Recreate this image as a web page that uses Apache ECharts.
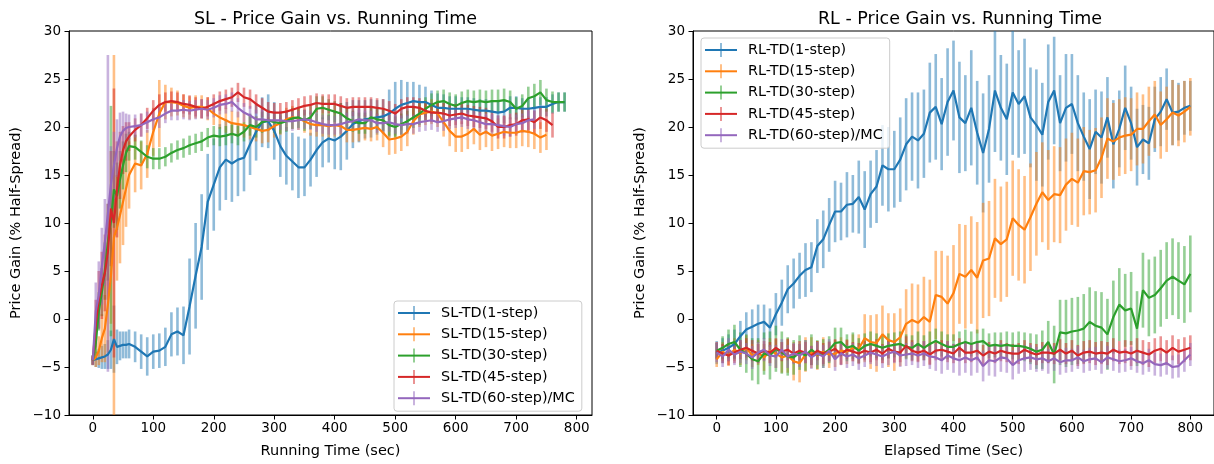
<!DOCTYPE html>
<html>
<head>
<meta charset="utf-8">
<script src="https://cdn.jsdelivr.net/npm/echarts@6/dist/echarts.min.js"></script>
<style>
  html, body { margin: 0; padding: 0; background: #fff; }
  #chart { width: 1214px; height: 464px; }
</style>
</head>
<body>
<div id="chart"></div>
<script>
// ---- data ----
var slX = [0, 5, 10, 15, 20, 25, 30, 35, 40, 45, 50, 55, 60,
  70, 80, 90, 100, 110, 120, 130, 140, 150, 160, 170, 180, 190, 200, 210, 220, 230, 240, 250, 260, 270, 280, 290,
  300, 310, 320, 330, 340, 350, 360, 370, 380, 390, 400, 410, 420, 430, 440, 450, 460, 470, 480, 490,
  500, 510, 520, 530, 540, 550, 560, 570, 580, 590, 600, 610, 620, 630, 640, 650, 660, 670, 680, 690,
  700, 710, 720, 730, 740, 750, 760, 770, 780];

var slTd1 = [-4.3, -4.2, -4.1, -4.0, -3.9, -3.7, -3.2, -2.1, -2.9, -2.8, -2.7, -2.7, -2.6,
  -2.9, -3.4, -3.9, -3.4, -3.3, -2.9, -1.6, -1.3, -1.7, 1.3, 4.5, 7.5, 12.2, 14.0, 15.8, 16.6, 16.2, 16.6, 16.8, 18.2, 19.5, 20.5, 20.6,
  19.6, 18.0, 17.0, 16.4, 15.8, 15.8, 16.6, 17.6, 18.4, 18.8, 18.6, 19.0, 19.6, 20.3, 20.6, 20.8, 20.9, 21.0, 21.1, 21.4,
  21.9, 22.3, 22.5, 22.7, 22.6, 22.6, 22.3, 22.0, 22.0, 21.9, 21.9, 21.9, 21.9, 21.8, 21.7, 21.7, 21.6, 21.5, 21.6, 22.0,
  22.0, 21.9, 21.9, 22.0, 22.1, 22.1, 22.4, 22.6, 22.6];
var slTd1Err = [0.4, 0.8, 1.0, 1.2, 1.3, 1.5, 2.0, 3.5, 1.8, 1.5, 1.4, 1.4, 1.5,
  1.6, 1.8, 2.0, 1.8, 1.8, 2.0, 2.3, 2.5, 3.0, 5.0, 5.5, 5.5, 5.0, 4.8, 4.5, 4.2, 4.0, 3.8, 3.5, 3.2, 3.0, 2.6, 2.8,
  3.0, 3.2, 3.0, 3.0, 3.2, 3.0, 2.8, 2.8, 2.6, 2.5, 3.0, 3.5, 3.0, 2.5, 2.2, 2.0, 2.0, 1.8, 1.8, 2.5,
  2.8, 2.6, 2.2, 2.0, 1.8, 1.6, 1.5, 1.5, 1.4, 1.3, 1.3, 1.2, 1.2, 1.2, 1.2, 1.2, 1.2, 1.2, 1.2, 1.2,
  1.2, 1.1, 1.1, 1.1, 1.0, 1.0, 1.0, 1.0, 1.0];

var slTd15 = [-4.3, -4.0, -3.3, -2.0, -1.0, 1.5, 4.5, 8.5, 9.5, 10.8, 12.2, 13.6, 15.0,
  16.2, 16.0, 17.2, 19.5, 21.4, 22.6, 22.6, 22.5, 22.2, 22.0, 22.1, 22.1, 21.9, 21.4, 21.0, 20.7, 20.4, 20.3, 20.2, 20.0, 19.8, 19.6, 19.7,
  20.1, 20.4, 20.8, 21.0, 20.9, 20.6, 20.3, 20.2, 20.2, 20.1, 20.2, 20.1, 19.7, 19.7, 19.8, 19.9, 19.8, 20.0, 19.4, 18.7,
  18.8, 19.0, 19.5, 20.6, 21.3, 21.5, 21.6, 21.4, 20.5, 19.6, 19.0, 19.0, 19.3, 19.8, 19.2, 19.5, 19.1, 19.3, 19.5, 19.4,
  19.4, 19.6, 19.5, 19.3, 18.9, 19.2];
var slTd15Err = [0.5, 1.0, 1.5, 2.5, 3.5, 5.0, 5.0, 19.0, 5.5, 5.0, 4.5, 4.0, 3.5,
  3.0, 2.5, 2.5, 2.5, 3.5, 1.8, 1.5, 1.3, 1.2, 1.2, 1.2, 1.2, 1.2, 1.2, 1.2, 1.3, 1.3, 1.3, 1.3, 1.3, 1.3, 1.3, 1.3,
  1.2, 1.2, 1.2, 1.2, 1.2, 1.2, 1.2, 1.2, 1.2, 1.2, 1.2, 1.2, 1.3, 1.3, 1.3, 1.3, 1.3, 1.4, 1.5, 1.6,
  1.6, 1.5, 1.5, 1.4, 1.3, 1.3, 1.3, 1.4, 1.5, 1.6, 1.6, 1.6, 1.6, 1.6, 1.6, 1.6, 1.6, 1.6, 1.6, 1.6,
  1.6, 1.6, 1.6, 1.6, 1.6, 1.6];

var slTd30 = [-4.3, -2.5, 0.8, 2.8, 5.0, 8.0, 10.2, 13.5, 12.8, 14.5, 16.0, 17.3, 18.0,
  17.9, 17.4, 16.9, 16.7, 16.7, 16.9, 17.3, 17.6, 17.8, 18.1, 18.3, 18.5, 18.9, 19.1, 19.0, 19.1, 19.3, 19.1, 19.5, 20.2, 20.0, 20.5, 20.7,
  20.5, 20.4, 20.6, 20.9, 21.0, 20.7, 21.0, 21.9, 22.0, 21.8, 21.6, 21.4, 20.9, 20.6, 20.4, 20.4, 21.0, 20.8, 20.7, 20.2,
  20.0, 20.3, 20.6, 21.0, 21.4, 21.9, 22.3, 22.6, 22.7, 22.4, 22.2, 22.5, 22.7, 22.6, 22.7, 22.6, 22.7, 22.7, 22.8, 22.6,
  21.9, 22.2, 23.0, 23.2, 23.6, 22.8, 22.6, 22.6, 22.6];
var slTd30Err = [0.5, 1.5, 2.0, 2.5, 3.0, 4.0, 12.0, 4.0, 3.5, 3.0, 2.5, 2.0, 1.5,
  1.3, 1.2, 1.2, 1.1, 1.1, 1.0, 1.0, 1.0, 1.0, 1.0, 1.0, 1.0, 1.0, 1.0, 1.0, 1.0, 1.0, 1.0, 1.0, 1.1, 1.1, 1.1, 1.1,
  1.1, 1.1, 1.1, 1.1, 1.1, 1.1, 1.2, 1.3, 1.2, 1.1, 1.1, 1.1, 1.1, 1.1, 1.1, 1.1, 1.1, 1.1, 1.1, 1.1,
  1.1, 1.1, 1.1, 1.1, 1.2, 1.2, 1.2, 1.2, 1.2, 1.2, 1.2, 1.2, 1.2, 1.2, 1.2, 1.2, 1.2, 1.2, 1.2, 1.2,
  1.2, 1.2, 1.2, 1.3, 1.3, 1.2, 1.1, 1.0, 1.0];

var slTd45 = [-4.3, -0.5, 2.0, 3.5, 4.8, 7.0, 11.5, 10.0, 13.5, 16.0, 17.6, 18.5, 19.0,
  19.7, 20.2, 20.9, 21.7, 22.3, 22.6, 22.7, 22.6, 22.4, 22.3, 22.1, 21.9, 22.1, 22.4, 22.7, 22.9, 23.1, 23.6, 23.1, 22.9, 22.4, 22.0, 21.6,
  21.5, 21.5, 21.6, 21.8, 22.0, 22.2, 22.3, 22.5, 22.4, 22.4, 22.4, 22.2, 22.0, 22.1, 22.1, 22.1, 22.1, 22.0, 21.9, 21.7,
  21.4, 21.9, 22.1, 22.1, 22.0, 21.7, 21.5, 21.5, 21.4, 21.2, 21.3, 21.4, 21.2, 21.1, 21.0, 20.9, 20.6, 20.0, 20.0, 20.2,
  20.3, 20.7, 20.8, 20.5, 21.0, 20.7, 20.2];
var slTd45Err = [0.5, 2.5, 3.0, 3.5, 4.0, 5.0, 6.0, 14.0, 5.0, 3.5, 2.5, 2.0, 1.5,
  1.2, 1.2, 1.1, 1.1, 1.1, 1.0, 1.0, 1.0, 1.0, 1.0, 1.0, 1.0, 1.0, 1.0, 1.0, 1.0, 1.0, 1.0, 1.0, 1.0, 1.0, 1.0, 1.0,
  1.0, 1.0, 1.0, 1.0, 1.0, 1.0, 1.0, 1.0, 1.0, 1.0, 1.0, 1.0, 1.0, 1.0, 1.0, 1.0, 1.0, 1.0, 1.0, 1.0,
  1.0, 1.0, 1.0, 1.0, 1.0, 1.0, 1.0, 1.1, 1.1, 1.1, 1.1, 1.1, 1.1, 1.1, 1.1, 1.1, 1.1, 1.2, 1.2, 1.2,
  1.2, 1.2, 1.2, 1.2, 1.2, 1.2, 1.3];

var slTd60 = [-4.3, 0.8, 2.5, 5.5, 8.0, 11.0, 14.0, 16.0, 17.8, 19.0, 19.6, 19.9, 20.0,
  20.1, 20.2, 20.5, 20.8, 21.0, 21.4, 21.7, 21.7, 21.8, 21.7, 21.8, 21.9, 21.8, 22.0, 22.3, 22.4, 22.6, 22.0, 21.5, 21.2, 20.8, 20.8, 20.7,
  20.7, 20.7, 20.6, 20.6, 20.7, 20.8, 20.7, 20.5, 20.3, 20.2, 20.2, 20.3, 20.5, 20.6, 20.8, 20.7, 20.7, 20.4, 20.4, 20.5,
  20.3, 20.2, 20.3, 20.3, 20.5, 20.6, 20.7, 20.5, 20.6, 20.8, 20.9, 21.0, 20.8, 20.7, 20.5, 20.3, 20.3, 20.2, 20.1, 20.0,
  20.3, 20.4, 20.7, 20.8];
var slTd60Err = [0.5, 3.0, 3.5, 4.0, 4.5, 16.5, 4.0, 3.5, 3.0, 2.5, 2.0, 1.5, 1.3,
  1.2, 1.2, 1.1, 1.1, 1.1, 1.0, 1.0, 1.0, 1.0, 1.0, 1.0, 1.0, 1.0, 1.0, 1.0, 1.0, 1.0, 1.0, 1.0, 1.0, 1.0, 1.0, 1.0,
  1.0, 1.0, 1.0, 1.0, 1.0, 1.0, 1.0, 1.0, 1.0, 1.0, 1.0, 1.0, 1.0, 1.0, 1.0, 1.0, 1.0, 1.0, 1.0, 1.0,
  1.0, 1.0, 1.0, 1.0, 1.0, 1.0, 1.0, 1.0, 1.0, 1.0, 1.0, 1.0, 1.0, 1.0, 1.0, 1.0, 1.0, 1.0, 1.0, 1.0,
  1.0, 1.0, 1.0, 1.0];

var rlX = [0, 10, 20, 30, 40, 50, 60, 70, 80, 90, 100, 110, 120, 130, 140, 150, 160, 170, 180, 190,
  200, 210, 220, 230, 240, 250, 260, 270, 280, 290, 300, 310, 320, 330, 340, 350, 360, 370, 380, 390,
  400, 410, 420, 430, 440, 450, 460, 470, 480, 490, 500, 510, 520, 530, 540, 550, 560, 570, 580, 590,
  600, 610, 620, 630, 640, 650, 660, 670, 680, 690, 700, 710, 720, 730, 740, 750, 760, 770, 780, 790, 800];

var rlTd1 = [-3.5, -3.3, -3.0, -2.6, -1.8, -1.1, -0.8, -0.5, -0.3, -0.9, 0.5, 1.7, 3.1, 3.7, 4.5, 5.1, 5.4, 7.6, 8.3, 9.8,
  11.2, 11.2, 11.9, 12.0, 12.7, 11.4, 13.0, 13.8, 16.0, 15.6, 15.6, 16.6, 18.2, 19.0, 18.6, 19.3, 21.5, 22.1, 20.3, 22.6,
  23.8, 21.0, 20.4, 22.0, 19.4, 17.3, 19.8, 23.8, 22.0, 20.8, 23.6, 22.4, 23.2, 21.0, 20.2, 19.2, 22.6, 23.8, 20.4, 22.0,
  22.4, 20.4, 19.0, 17.7, 19.5, 18.9, 21.0, 18.2, 19.8, 22.0, 20.4, 17.9, 18.7, 18.3, 20.8, 21.6, 22.9, 21.5, 21.6, 22.0, 22.2];
var rlTd1Err = [1.2, 1.3, 1.4, 1.5, 1.6, 1.8, 1.8, 2.0, 1.8, 2.0, 2.2, 2.4, 2.5, 2.6, 2.4, 2.8, 2.6, 2.8, 3.0, 2.8,
  3.2, 3.0, 3.4, 3.0, 3.8, 4.0, 3.5, 3.8, 4.2, 4.4, 4.0, 4.4, 4.8, 4.6, 5.0, 4.6, 5.2, 5.5, 4.8, 5.6,
  5.2, 5.8, 5.0, 6.0, 5.4, 6.2, 5.6, 6.4, 5.5, 5.8, 6.5, 5.6, 6.0, 5.2, 5.8, 5.4, 6.0, 5.6, 5.0, 5.6,
  5.2, 5.0, 4.6, 5.2, 4.4, 4.8, 4.2, 4.6, 4.0, 4.4, 3.8, 4.0, 3.6, 3.8, 3.4, 3.6, 3.2, 3.4, 3.0, 2.8, 2.6];

var rlTd15 = [-4.2, -3.4, -3.8, -3.2, -3.6, -3.0, -3.8, -3.5, -4.0, -3.3, -3.6, -4.0, -3.8, -4.4, -4.6, -3.7, -3.5, -3.8, -3.4, -3.7,
  -3.6, -3.3, -3.4, -3.0, -3.1, -2.0, -2.4, -2.5, -1.6, -2.2, -2.4, -1.9, -0.5, -0.1, -0.4, 0.2, -0.3, 2.5, 2.3, 1.6,
  2.7, 4.7, 4.4, 5.1, 4.3, 6.1, 6.3, 8.4, 7.8, 8.3, 10.5, 9.8, 9.3, 10.6, 12.0, 13.2, 12.4, 13.0, 12.9, 14.0,
  14.6, 14.2, 15.4, 15.3, 15.5, 16.8, 18.8, 18.5, 18.9, 19.1, 19.2, 19.8, 19.8, 20.6, 21.3, 20.2, 20.8, 21.5, 21.2, 21.6, 22.1];
var rlTd15Err = [0.8, 1.0, 1.1, 1.2, 1.2, 1.3, 1.2, 1.3, 1.4, 1.3, 1.5, 1.6, 1.8, 2.0, 2.0, 1.8, 1.6, 1.5, 1.5, 1.4,
  1.4, 1.4, 1.3, 1.4, 1.5, 2.5, 2.8, 3.0, 3.0, 2.8, 3.0, 3.0, 3.6, 3.8, 4.0, 4.2, 4.4, 4.6, 4.8, 5.0,
  5.0, 5.2, 5.4, 5.6, 5.8, 6.0, 6.0, 6.2, 6.0, 6.0, 6.0, 5.8, 5.6, 5.6, 5.4, 5.2, 5.2, 5.0, 5.0, 4.8,
  4.8, 4.6, 4.6, 4.4, 4.4, 4.2, 4.2, 4.0, 4.0, 4.0, 3.8, 3.8, 3.6, 3.6, 3.5, 3.5, 3.4, 3.4, 3.2, 3.2, 3.0];

var rlTd30 = [-3.3, -3.0, -2.6, -2.4, -3.2, -3.6, -4.2, -4.4, -3.6, -3.8, -3.1, -3.5, -3.9, -4.0, -3.5, -3.8, -3.2, -3.7, -3.6, -3.2,
  -2.5, -2.4, -3.0, -2.8, -3.3, -2.8, -2.6, -2.8, -3.0, -2.8, -2.7, -2.6, -2.9, -3.0, -2.6, -3.0, -2.6, -2.3, -2.6, -2.9,
  -2.9, -2.6, -2.4, -2.6, -2.4, -2.3, -2.8, -2.7, -2.8, -2.7, -2.8, -2.8, -2.9, -3.1, -3.4, -3.2, -2.4, -3.7, -1.4, -1.5,
  -1.3, -1.2, -1.0, -0.3, -0.7, -0.9, -1.6, 0.2, 1.5, 0.9, 1.1, -1.0, 3.0, 2.2, 2.5, 3.2, 4.0, 4.4, 4.0, 3.6, 4.7];
var rlTd30Err = [0.8, 1.2, 1.5, 1.8, 1.8, 2.0, 2.2, 2.4, 2.2, 2.5, 2.4, 2.2, 2.0, 1.8, 1.8, 1.6, 1.6, 1.5, 1.5, 1.4,
  1.6, 1.5, 1.4, 1.4, 1.3, 1.3, 1.3, 1.3, 1.3, 1.3, 1.3, 1.3, 1.3, 1.3, 1.3, 1.3, 1.3, 1.3, 1.3, 1.3,
  1.3, 1.3, 1.3, 1.3, 1.3, 1.3, 1.3, 1.3, 1.4, 1.4, 1.4, 1.5, 1.5, 1.6, 1.8, 2.0, 2.2, 3.0, 3.4, 3.5,
  3.5, 3.5, 3.6, 3.6, 3.6, 3.7, 3.7, 3.8, 3.8, 3.8, 3.8, 3.9, 3.9, 4.0, 4.0, 4.0, 4.0, 4.0, 4.0, 4.0, 4.0];

var rlTd45 = [-3.3, -3.6, -3.8, -3.5, -3.2, -3.0, -3.3, -3.6, -3.3, -3.5, -3.0, -3.4, -3.2, -3.6, -3.3, -3.5, -3.8, -3.3, -3.6, -3.4,
  -3.1, -3.7, -3.2, -3.4, -3.6, -3.3, -3.5, -3.2, -3.6, -3.1, -3.4, -3.5, -2.8, -3.3, -3.5, -3.3, -3.7, -3.3, -3.2, -3.4,
  -3.6, -3.0, -3.5, -3.5, -3.3, -3.8, -3.4, -3.6, -3.3, -3.5, -3.6, -3.6, -3.2, -3.5, -3.7, -3.5, -3.5, -3.6, -3.2, -3.6,
  -3.3, -3.8, -3.5, -3.4, -3.6, -3.5, -3.6, -3.2, -3.5, -3.4, -3.6, -3.3, -3.5, -3.7, -3.3, -3.1, -3.5, -3.0, -3.4, -3.2, -3.0];
var rlTd45Err = [0.9, 1.0, 1.0, 1.1, 1.0, 1.0, 1.1, 1.0, 1.0, 1.1, 1.0, 1.0, 1.1, 1.0, 1.0, 1.1, 1.0, 1.0, 1.1, 1.0,
  1.0, 1.1, 1.0, 1.0, 1.1, 1.0, 1.0, 1.1, 1.0, 1.0, 1.1, 1.0, 1.0, 1.1, 1.0, 1.0, 1.1, 1.0, 1.0, 1.1,
  1.0, 1.0, 1.1, 1.0, 1.0, 1.1, 1.0, 1.0, 1.1, 1.0, 1.0, 1.1, 1.0, 1.0, 1.1, 1.1, 1.1, 1.1, 1.1, 1.1,
  1.1, 1.1, 1.2, 1.2, 1.2, 1.2, 1.2, 1.2, 1.2, 1.2, 1.3, 1.3, 1.3, 1.3, 1.3, 1.3, 1.3, 1.3, 1.3, 1.3, 1.3];

var rlTd60 = [-3.5, -3.9, -3.2, -3.7, -3.4, -3.6, -4.0, -3.5, -3.2, -3.8, -3.9, -3.2, -3.9, -3.6, -3.8, -3.4, -4.0, -3.6, -3.9, -3.3,
  -4.2, -3.6, -3.9, -3.7, -4.1, -3.8, -3.5, -3.7, -3.9, -3.6, -3.4, -3.8, -3.7, -3.6, -3.8, -3.6, -3.9, -4.0, -4.3, -3.8,
  -4.1, -4.3, -4.0, -4.3, -4.0, -4.9, -4.3, -4.4, -4.0, -4.1, -4.8, -4.3, -4.1, -4.0, -4.2, -4.1, -4.4, -4.1, -4.5, -4.3,
  -4.3, -4.0, -4.4, -4.2, -4.1, -4.5, -4.0, -4.2, -4.4, -4.3, -4.1, -4.4, -4.6, -4.3, -4.7, -4.8, -4.6, -5.0, -4.9, -4.3, -3.7];
var rlTd60Err = [1.0, 1.1, 1.2, 1.1, 1.2, 1.1, 1.2, 1.1, 1.2, 1.1, 1.2, 1.1, 1.2, 1.1, 1.2, 1.2, 1.2, 1.2, 1.2, 1.2,
  1.2, 1.2, 1.2, 1.2, 1.2, 1.2, 1.2, 1.2, 1.2, 1.2, 1.2, 1.2, 1.2, 1.2, 1.3, 1.3, 1.3, 1.4, 1.4, 1.5,
  1.5, 1.6, 1.6, 1.6, 1.6, 1.6, 1.6, 1.6, 1.5, 1.5, 1.5, 1.4, 1.4, 1.3, 1.3, 1.3, 1.3, 1.3, 1.3, 1.3,
  1.2, 1.2, 1.2, 1.2, 1.2, 1.2, 1.2, 1.2, 1.2, 1.2, 1.2, 1.2, 1.2, 1.2, 1.2, 1.2, 1.2, 1.2, 1.2, 1.2, 1.2];

var slNames = ['SL-TD(1-step)', 'SL-TD(15-step)', 'SL-TD(30-step)', 'SL-TD(45-step)', 'SL-TD(60-step)/MC'];
var rlNames = ['RL-TD(1-step)', 'RL-TD(15-step)', 'RL-TD(30-step)', 'RL-TD(45-step)', 'RL-TD(60-step)/MC'];
var xTicks = [0, 100, 200, 300, 400, 500, 600, 700, 800];

// ---- styling ----
var colors = ['#1f77b4', '#ff7f0e', '#2ca02c', '#d62728', '#9467bd'];
var font = 'DejaVu Sans';
// legend glyph = solid line + faded vertical tick (two stacked legends)
var lineIcon = 'path://M0,0 L32,0 L32,2 L0,2 Z';
// hairline at mid height only widens the bbox so the tick sits centred
var tickIcon = 'path://M15,0 L17,0 L17,14 L15,14 Z M0,7 L32,7 L32,7.01 L0,7.01 Z';

function toRgba(hex, a) {
    var n = parseInt(hex.slice(1), 16);
    return 'rgba(' + (n >> 16) + ',' + ((n >> 8) & 255) + ',' + (n & 255) + ',' + a + ')';
}

// vertical error bar, clipped to the y range
function errBar(params, api) {
    var x = api.value(0);
    var y = api.value(1);
    var e = api.value(2);
    var lo = Math.max(y - e, -10);
    var hi = Math.min(y + e, 30);
    var p1 = api.coord([x, lo]);
    var p2 = api.coord([x, hi]);
    return {
        type: 'line',
        shape: { x1: p1[0], y1: p1[1], x2: p2[0], y2: p2[1] },
        style: { stroke: api.visual('color'), lineWidth: 2.6 }
    };
}

function addSeries(list, idx, name, xs, ys, errs, color) {
    var pts = [], bars = [];
    for (var i = 0; i < ys.length; i++) {
        pts.push([xs[i], ys[i]]);
        bars.push([xs[i], ys[i], errs[i]]);
    }
    list.push({
        type: 'custom',
        name: name + ' err',
        xAxisIndex: idx,
        yAxisIndex: idx,
        renderItem: errBar,
        itemStyle: { color: toRgba(color, 0.5) },
        data: bars,
        silent: true
    });
    list.push({
        type: 'line',
        name: name,
        xAxisIndex: idx,
        yAxisIndex: idx,
        data: pts,
        showSymbol: false,
        symbol: 'none',
        color: color,
        lineStyle: { color: color, width: 2.2 },
        silent: true
    });
}

var series = [];
var slData = [[slTd1, slTd1Err], [slTd15, slTd15Err], [slTd30, slTd30Err], [slTd45, slTd45Err], [slTd60, slTd60Err]];
var rlData = [[rlTd1, rlTd1Err], [rlTd15, rlTd15Err], [rlTd30, rlTd30Err], [rlTd45, rlTd45Err], [rlTd60, rlTd60Err]];
for (var k = 0; k < 5; k++) {
    addSeries(series, 0, slNames[k], slX, slData[k][0], slData[k][1], colors[k]);
}
for (var k = 0; k < 5; k++) {
    addSeries(series, 1, rlNames[k], rlX, rlData[k][0], rlData[k][1], colors[k]);
}

function xAxisCfg(idx, min, max, name) {
    return {
        type: 'value',
        gridIndex: idx,
        min: min,
        max: max,
        name: name,
        nameLocation: 'middle',
        nameGap: 29,
        nameTextStyle: { color: '#000', fontSize: 14.5, fontFamily: font },
        axisLine: { show: true, onZero: false, lineStyle: { color: '#000', width: 1 } },
        axisTick: { show: true, length: 4.5, customValues: xTicks, lineStyle: { color: '#000' } },
        axisLabel: { customValues: xTicks, color: '#000', fontSize: 13.5, fontFamily: font, margin: 6 },
        splitLine: { show: false }
    };
}

function yAxisCfg(idx) {
    return {
        type: 'value',
        gridIndex: idx,
        min: -10,
        max: 30,
        interval: 5,
        name: 'Price Gain (% Half-Spread)',
        nameLocation: 'middle',
        nameGap: 45,
        nameTextStyle: { color: '#000', fontSize: 14.5, fontFamily: font },
        axisLine: { show: true, onZero: false, lineStyle: { color: '#000', width: 1 } },
        axisTick: { show: true, length: 4.5, lineStyle: { color: '#000' } },
        axisLabel: {
            color: '#000', fontSize: 13.5, fontFamily: font, margin: 8,
            formatter: function (v) { return String(v).replace('-', '\u2212'); }
        },
        splitLine: { show: false }
    };
}

function legendCfg(names, left, top, overlay) {
    return {
        data: overlay ? names.map(function (n) { return n + ' err'; }) : names,
        orient: 'vertical',
        left: left,
        top: top,
        icon: overlay ? tickIcon : lineIcon,
        itemWidth: 32,
        itemHeight: 14,
        itemGap: 7.3,
        padding: [5, 7, 6, 4],
        borderColor: overlay ? 'transparent' : '#cccccc',
        borderWidth: overlay ? 0 : 1,
        borderRadius: 3,
        backgroundColor: overlay ? 'transparent' : 'rgba(255,255,255,0.8)',
        selectedMode: false,
        textStyle: {
            color: overlay ? 'rgba(0,0,0,0)' : '#000',
            fontSize: 14.4, lineHeight: 14, fontFamily: font, padding: [0, 0, 0, 6]
        }
    };
}

var chart = echarts.init(document.getElementById('chart'));
chart.setOption({
    animation: false,
    backgroundColor: '#fff',
    textStyle: { fontFamily: font },
    title: [
        { text: 'SL - Price Gain vs. Running Time', left: 330.5, top: 5, textAlign: 'center',
          textStyle: { color: '#000', fontSize: 17.5, fontWeight: 'normal', fontFamily: font } },
        { text: 'RL - Price Gain vs. Running Time', left: 955, top: 5, textAlign: 'center',
          textStyle: { color: '#000', fontSize: 17.5, fontWeight: 'normal', fontFamily: font } }
    ],
    grid: [
        { left: 69, top: 31, width: 523, height: 389, show: true, borderColor: '#000', borderWidth: 1, backgroundColor: 'transparent' },
        { left: 693, top: 31, width: 524, height: 389, show: true, borderColor: '#000', borderWidth: 1, backgroundColor: 'transparent' }
    ],
    xAxis: [
        xAxisCfg(0, -39.3, 825.3, 'Running Time (sec)'),
        xAxisCfg(1, -40, 840, 'Elapsed Time (Sec)')
    ],
    yAxis: [yAxisCfg(0), yAxisCfg(1)],
    legend: [
        legendCfg(slNames, 394, 301, false),
        legendCfg(slNames, 394, 301, true),
        legendCfg(rlNames, 701, 38, false),
        legendCfg(rlNames, 701, 38, true)
    ],
    series: series
});
</script>
</body>
</html>
